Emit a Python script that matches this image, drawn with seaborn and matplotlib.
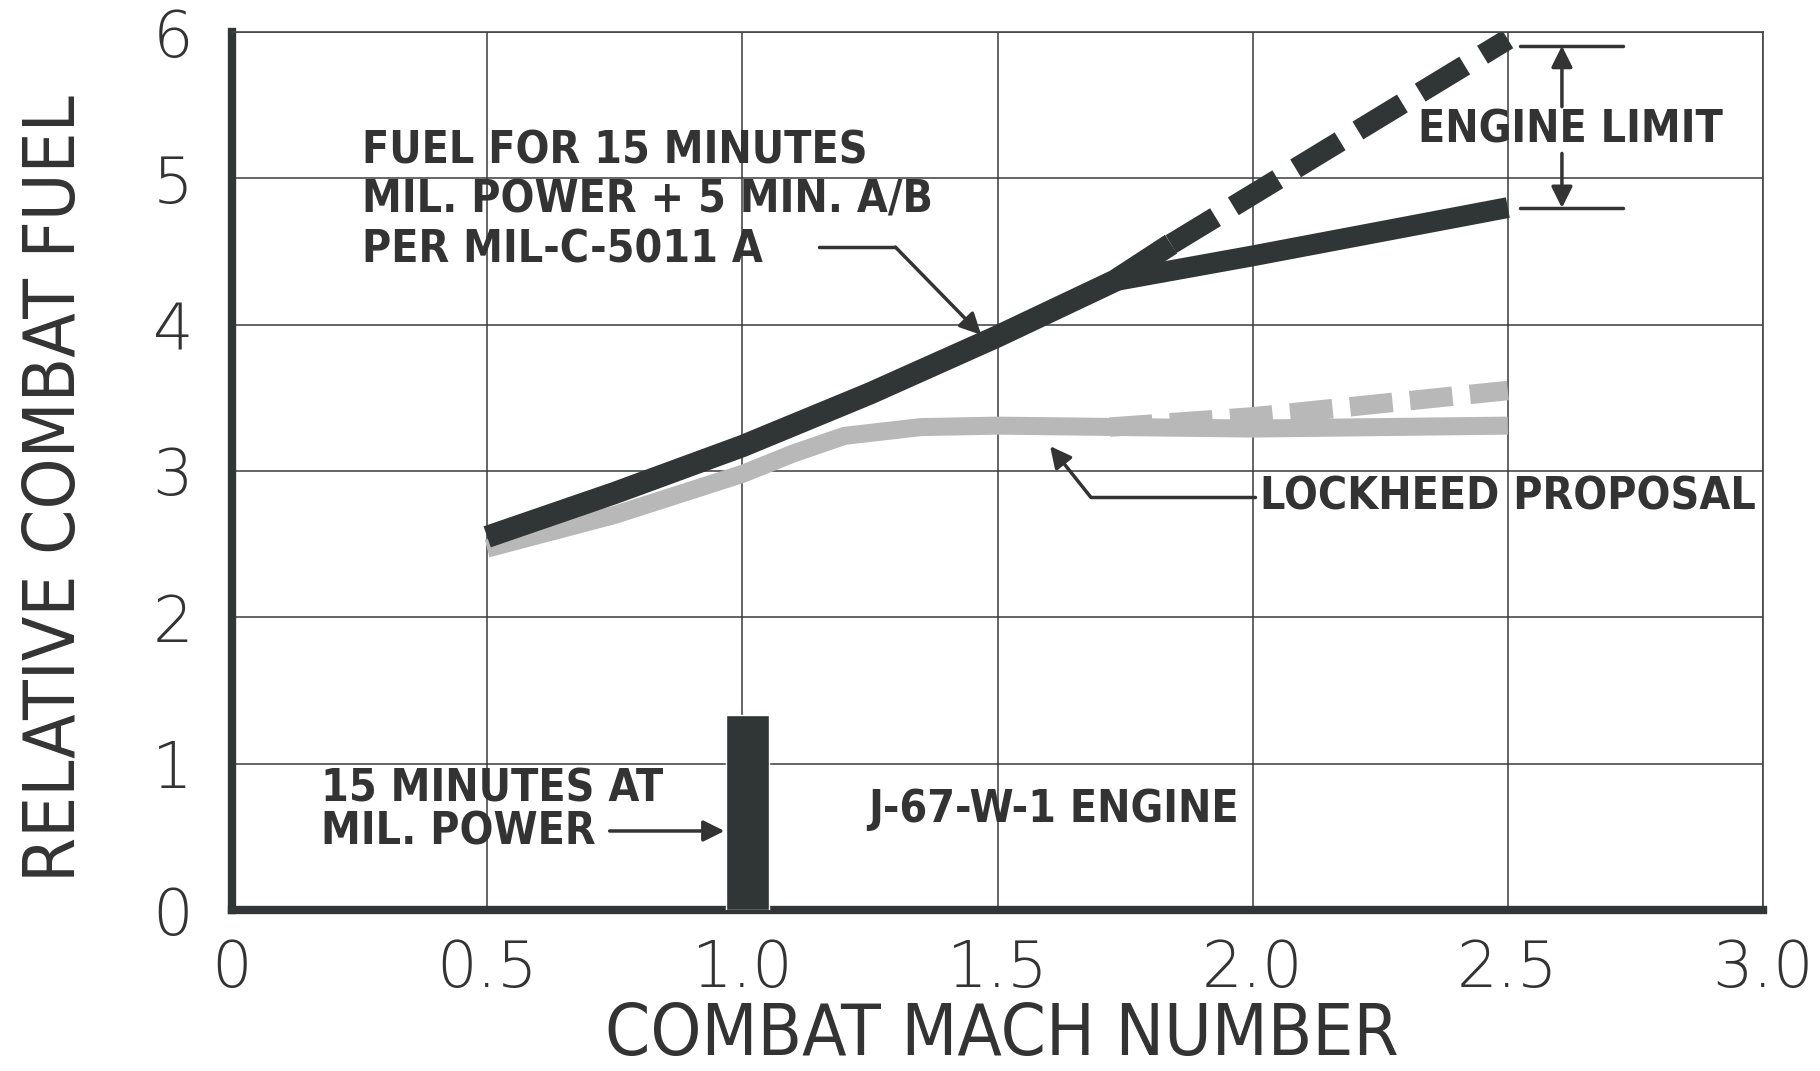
import matplotlib
matplotlib.use("Agg")
import matplotlib.pyplot as plt
import seaborn as sns

# fuel per MIL-C-5011A (solid up to the branch point)
mil_mach = [0.5, 0.75, 1.0, 1.25, 1.5, 1.73, 1.84]
mil_fuel = [2.55, 2.85, 3.17, 3.53, 3.92, 4.30, 4.55]
# upper dashed branch (beyond engine limit)
upper_mach = [1.84, 2.5]
upper_fuel = [4.55, 5.95]
# lower solid branch
lower_mach = [1.73, 2.0, 2.5]
lower_fuel = [4.30, 4.47, 4.80]

# Lockheed proposal
lock_mach = [0.5, 0.75, 1.0, 1.1, 1.2, 1.35, 1.5, 1.75, 2.0, 2.25, 2.5]
lock_fuel = [2.47, 2.70, 2.98, 3.12, 3.24, 3.30, 3.31, 3.30, 3.29, 3.30, 3.31]
lock_dash_mach = [1.72, 2.0, 2.5]
lock_dash_fuel = [3.30, 3.37, 3.55]

# 15 minutes at mil. power
bar_mach = [1.01]
bar_fuel = [1.33]

x_ticks = [0, 0.5, 1.0, 1.5, 2.0, 2.5, 3.0]
x_labels = ["0", "0.5", "1.0", "1.5", "2.0", "2.5", "3.0"]
y_ticks = [0, 1, 2, 3, 4, 5, 6]

dark = "#303535"
gray = "#b8b8b8"
ink = "#333333"

sns.set_style("white")
plt.rcParams["font.family"] = ["DejaVu Sans"]

fig = plt.figure(figsize=(18.2, 10.71), dpi=100)
ax = fig.add_axes([232 / 1820, 1 - 910 / 1071, (1763 - 232) / 1820, (910 - 32) / 1071])

ax.grid(True, color="#3a3a3a", lw=1.1)
ax.set_axisbelow(True)

# Lockheed first (below)
sns.lineplot(x=lock_mach, y=lock_fuel, ax=ax, color=gray, linewidth=13,
             sort=False, estimator=None, solid_capstyle="butt")
sns.lineplot(x=lock_dash_mach, y=lock_dash_fuel, ax=ax, color=gray, linewidth=14,
             sort=False, estimator=None, linestyle=(0, (2.2, 0.9)), dash_capstyle="butt")

sns.lineplot(x=mil_mach, y=mil_fuel, ax=ax, color=dark, linewidth=16,
             sort=False, estimator=None, solid_capstyle="butt", solid_joinstyle="round")
sns.lineplot(x=lower_mach, y=lower_fuel, ax=ax, color=dark, linewidth=15,
             sort=False, estimator=None, solid_capstyle="butt")
sns.lineplot(x=upper_mach, y=upper_fuel, ax=ax, color=dark, linewidth=15,
             sort=False, estimator=None, linestyle=(0, (2.5, 1.0)), dash_capstyle="butt")

ax.bar(bar_mach, bar_fuel, width=0.085, color=dark, zorder=3)

ax.set_xlim(0, 3.0)
ax.set_ylim(0, 6)
ax.set_xticks(x_ticks)
ax.set_xticklabels(x_labels)
ax.set_yticks(y_ticks)
ax.tick_params(axis="both", length=0, labelsize=46, colors=ink)
ax.tick_params(axis="x", pad=20)
ax.tick_params(axis="y", pad=28)
for lab in ax.get_xticklabels() + ax.get_yticklabels():
    lab.set_fontweight(200)

for side in ["left", "bottom"]:
    ax.spines[side].set_linewidth(6)
    ax.spines[side].set_color(dark)
for side in ["top", "right"]:
    ax.spines[side].set_linewidth(1.2)
    ax.spines[side].set_color("#444444")

ax.set_xlabel("COMBAT MACH NUMBER", fontsize=52, color=ink,
              fontstretch="condensed", va="center", ha="center")
ax.set_ylabel("RELATIVE COMBAT FUEL", fontsize=52, color=ink,
              fontstretch="condensed", va="center", ha="center")
ax.xaxis.set_label_coords(0.503, -0.143)
ax.yaxis.set_label_coords(-0.115, 0.48)

txt = dict(fontsize=32, fontweight="bold", color=ink, fontstretch="condensed")
arrow = dict(arrowstyle="-|>", lw=2.5, color=ink, mutation_scale=32, shrinkA=0, shrinkB=0)

ax.text(0.255, 5.19, "FUEL FOR 15 MINUTES", va="center", ha="left", **txt)
ax.text(0.255, 4.85, "MIL. POWER + 5 MIN. A/B", va="center", ha="left", **txt)
ax.text(0.255, 4.51, "PER MIL-C-5011 A", va="center", ha="left", **txt)
ax.plot([1.15, 1.30], [4.53, 4.53], color=ink, lw=2.5)
ax.annotate("", xy=(1.468, 3.93), xytext=(1.30, 4.53), arrowprops=arrow)

ax.text(2.622, 5.33, "ENGINE LIMIT", va="center", ha="center", **txt)
ax.plot([2.524, 2.726], [5.905, 5.905], color=ink, lw=2.5)
ax.plot([2.524, 2.726], [4.798, 4.798], color=ink, lw=2.5)
ax.annotate("", xy=(2.606, 5.905), xytext=(2.606, 5.49), arrowprops=arrow)
ax.annotate("", xy=(2.606, 4.798), xytext=(2.606, 5.17), arrowprops=arrow)

ax.text(2.015, 2.82, "LOCKHEED PROPOSAL", va="center", ha="left", **txt)
ax.plot([2.005, 1.683], [2.82, 2.82], color=ink, lw=2.5)
ax.annotate("", xy=(1.603, 3.17), xytext=(1.683, 2.82), arrowprops=arrow)

ax.text(0.175, 0.83, "15 MINUTES AT", va="center", ha="left", **txt)
ax.text(0.175, 0.53, "MIL. POWER", va="center", ha="left", **txt)
ax.annotate("", xy=(0.965, 0.54), xytext=(0.74, 0.54), arrowprops=arrow)

ax.text(1.246, 0.69, "J-67-W-1 ENGINE", va="center", ha="left", **txt)

fig.savefig("out.png", dpi=100)
